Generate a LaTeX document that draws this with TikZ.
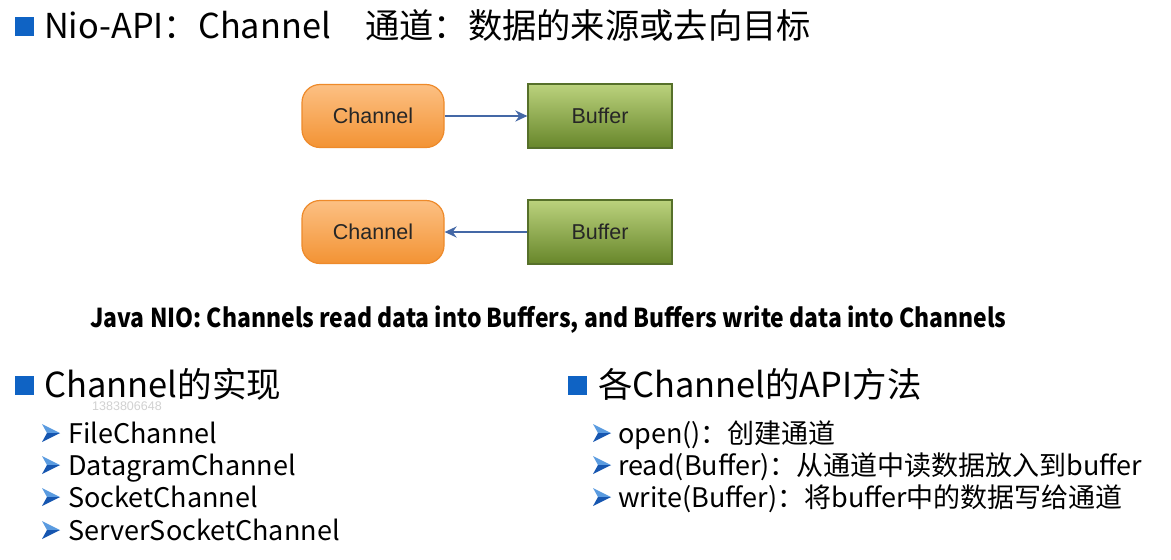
\documentclass[tikz,border=0pt]{standalone}
\usepackage{fontspec}
\setmainfont{Noto Sans CJK SC}
\newfontfamily\boxfont{Liberation Sans}
\newfontfamily\capfont[FakeStretch=0.882]{Noto Sans CJK SC}
\usetikzlibrary{arrows.meta}
\definecolor{sqblue}{HTML}{0F63C4}
\definecolor{arrblue}{HTML}{4468A6}
\definecolor{orTop}{HTML}{FCC083}
\definecolor{orBot}{HTML}{F39334}
\definecolor{orLine}{HTML}{EE8A2A}
\definecolor{grTop}{HTML}{BBD27D}
\definecolor{grBot}{HTML}{67862A}
\definecolor{grLine}{HTML}{56702A}
\definecolor{bulLight}{HTML}{5A9BE0}
\definecolor{bulDark}{HTML}{1656B0}
\tikzset{
  sqbox/.style={fill=sqblue, minimum size=19pt, inner sep=0pt},
  txt/.style={anchor=base west, inner sep=0pt, text=black},
  chbox/.style={draw=orLine, line width=1.2pt, rounded corners=18pt, top color=orTop, bottom color=orBot,
     minimum width=142pt, minimum height=63pt, font=\boxfont\fontsize{21.5}{24}\selectfont, text=black!85},
  bufbox/.style={draw=grLine, line width=1.2pt, top color=grTop, bottom color=grBot,
     minimum width=144pt, minimum height=64pt, font=\boxfont\fontsize{21.5}{24}\selectfont, text=black!85},
  conn/.style={draw=arrblue, line width=2.4pt, -{Stealth[length=12pt,width=11pt]}},
  bul/.pic={
    \fill[bulLight] (0,-9) -- (18,0) -- (5,0) -- cycle;
    \fill[bulDark] (0,9) -- (18,0) -- (5,0) -- cycle;
  }
}
\begin{document}
\begin{tikzpicture}[x=1pt,y=-1pt]
\useasboundingbox (0,0) rectangle (1171,560);
\fill[white] (0,0) rectangle (1171,560);
% title
\node[sqbox] (sq0) at (24,26) {};
\node[txt, font=\fontsize{34.3}{40}\selectfont] (title) at (44,38) {Nio-API：Channel　通道：数据的来源或去向目标};
% diagram
\node[chbox] (ch1) at (373,116) {Channel};
\node[bufbox] (bf1) at (600,116) {Buffer};
\node[chbox] (ch2) at (373,232) {Channel};
\node[bufbox] (bf2) at (600,232) {Buffer};
\draw[conn] (ch1.east) -- (bf1.west);
\draw[conn] (bf2.west) -- (ch2.east);
% caption
\node[txt, font=\capfont\bfseries\fontsize{26}{29}\selectfont] (cap) at (90,327) {Java NIO: Channels read data into Buffers, and Buffers write data into Channels};
% left section
\node[sqbox] (sq1) at (24,385) {};
\node[txt, font=\fontsize{34.5}{40}\selectfont] (h1) at (44,397) {Channel的实现};
\node[txt, font=\boxfont\fontsize{12.5}{15}\selectfont, text=black!18] (wm) at (92,410) {1383806648};
\foreach \y/\t [count=\i] in {433/FileChannel, 465/DatagramChannel, 497/SocketChannel, 530/ServerSocketChannel}{
  \pic at (42,\y) {bul};
  \node[txt, font=\fontsize{27}{32}\selectfont] (l\i) at (68,\y+10) {\t};
}
% right section
\node[sqbox] (sq2) at (577,385) {};
\node[txt, font=\fontsize{34.4}{40}\selectfont] (h2) at (598,397) {各Channel的API方法};
\pic at (593,433) {bul};
\node[txt, font=\fontsize{27}{32}\selectfont] (r1) at (618,443) {open()：创建通道};
\pic at (593,465) {bul};
\node[txt, font=\fontsize{27}{32}\selectfont] (r2) at (618,475) {read(Buffer)：从通道中读数据放入到buffer};
\pic at (593,497) {bul};
\node[txt, font=\fontsize{27}{32}\selectfont] (r3) at (618,507) {write(Buffer)：将buffer中的数据写给通道};
\end{tikzpicture}
\end{document}
